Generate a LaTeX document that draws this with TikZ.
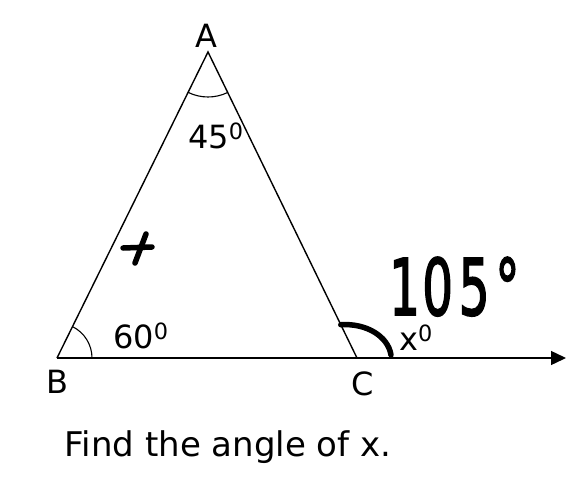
\documentclass[tikz,border=0pt]{standalone}
\usepackage{fontspec}
\setmainfont{DejaVu Sans}
\usetikzlibrary{arrows.meta}
\tikzset{
  side/.style={line width=1.4pt},
  ray/.style={line width=1.4pt,-{Triangle[length=15pt,width=14pt]}},
  ang/.style={line width=1.1pt},
  pen/.style={line width=5.5pt,line cap=round,line join=round},
  lbl/.style={font=\fontsize{32}{36}\selectfont,inner sep=0pt},
  hand/.style={font=\fontsize{78}{80}\selectfont\addfontfeature{FakeBold=2.5},inner sep=0pt,xscale=0.62}
}
\newcommand{\dg}[1]{#1\textsuperscript{0}}

\begin{document}
\begin{tikzpicture}[x=1pt,y=1pt]
\useasboundingbox (0,0) rectangle (572,491);
\coordinate (A) at (208,439);
\coordinate (B) at (57,133);
\coordinate (C) at (357,133);
\coordinate (D) at (566,133);
\draw[side] (B) -- (A) -- (C);
\draw[ray] (B) -- (D);
\draw[ang] ([shift={(243.7:45)}]A) arc (243.7:296:45);
\draw[ang] ([shift={(0:35)}]B) arc (0:63.7:35);
\draw[pen] ([shift={(116:37)}]C) .. controls (366,168) and (388,155) .. (391,136);
\draw[pen] (123,243) -- (152,244);
\draw[pen] (146,257) -- (135,228);
\node[lbl] (labA) at (206,455) {A};
\node[lbl] (labB) at (57,109) {B};
\node[lbl] (labC) at (363,107) {C};
\node[lbl] (angA) at (216,355) {\dg{45}};
\node[lbl] (angB) at (141,155) {\dg{60}};
\node[lbl] (angX) at (416,153) {\dg{x}};
\node[hand,anchor=base west] (ans) at (389,176) {1\hspace{0.05em}0\hspace{0.12em}5\hspace{0.12em}°};
\node[lbl,font=\fontsize{34}{38}\selectfont] (task) at (228,44) {Find the angle of x.};
\end{tikzpicture}
\end{document}
